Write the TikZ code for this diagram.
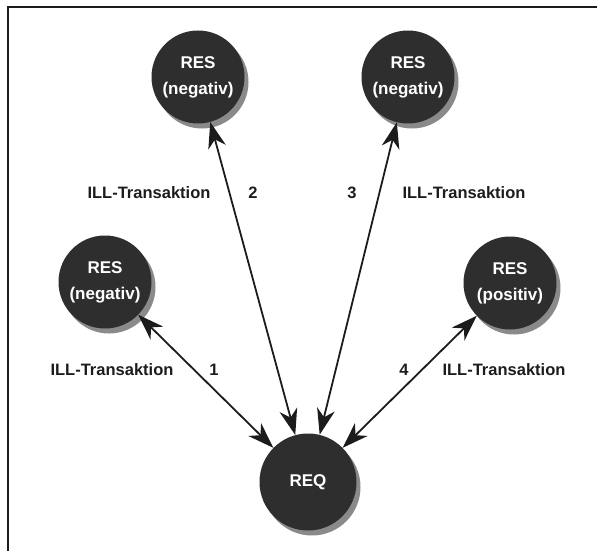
\documentclass[tikz,border=0pt]{standalone}
\usepackage{fontspec}
\setmainfont{Liberation Sans}
\usetikzlibrary{arrows.meta,shadows}
\definecolor{ink}{HTML}{1C1C1C}
\definecolor{ball}{HTML}{2E2E2E}
\definecolor{shade}{HTML}{8A8A8A}
\tikzset{
  ballnode/.style={circle, minimum size=93pt, inner sep=0pt, fill=ball,
    text=white, align=center, font=\bfseries\fontsize{17}{26}\selectfont,
    drop shadow={shadow xshift=4pt, shadow yshift=-5pt, fill=shade, opacity=1}},
  reqnode/.style={ballnode, minimum size=97pt},
  conn/.style={draw=ink, line width=1.8pt,
    {Stealth[length=26pt,width=18pt,inset=8pt]}-{Stealth[length=26pt,width=18pt,inset=8pt]}},
  lbl/.style={text=ink, font=\bfseries\fontsize{16.5}{19}\selectfont, inner sep=0pt},
  frame/.style={draw=ink, line width=1.5pt}
}
\begin{document}
\begin{tikzpicture}[x=1pt,y=-1pt]
\useasboundingbox (0,0) rectangle (597,551);
\draw[frame] (8,560) -- (8,7) -- (605,7);
\node[ballnode] (tl) at (198,77) {RES\\(negativ)};
\node[ballnode] (tr) at (408,77) {RES\\(negativ)};
\node[ballnode] (l) at (105,282) {RES\\(negativ)};
\node[ballnode] (r) at (510,283) {RES\\(positiv)};
\node[reqnode] (req) at (308,482) {REQ};
\draw[conn] (l) -- (req);
\draw[conn] (tl) -- (req);
\draw[conn] (tr) -- (req);
\draw[conn] (r) -- (req);
\node[lbl] (t2) at (149,193) {ILL-Transaktion};
\node[lbl] (n2) at (253,193) {2};
\node[lbl] (n3) at (352,193) {3};
\node[lbl] (t3) at (464,193) {ILL-Transaktion};
\node[lbl] (t1) at (112,370) {ILL-Transaktion};
\node[lbl] (n1) at (214,370) {1};
\node[lbl] (n4) at (404,370) {4};
\node[lbl] (t4) at (504,370) {ILL-Transaktion};
\end{tikzpicture}
\end{document}
